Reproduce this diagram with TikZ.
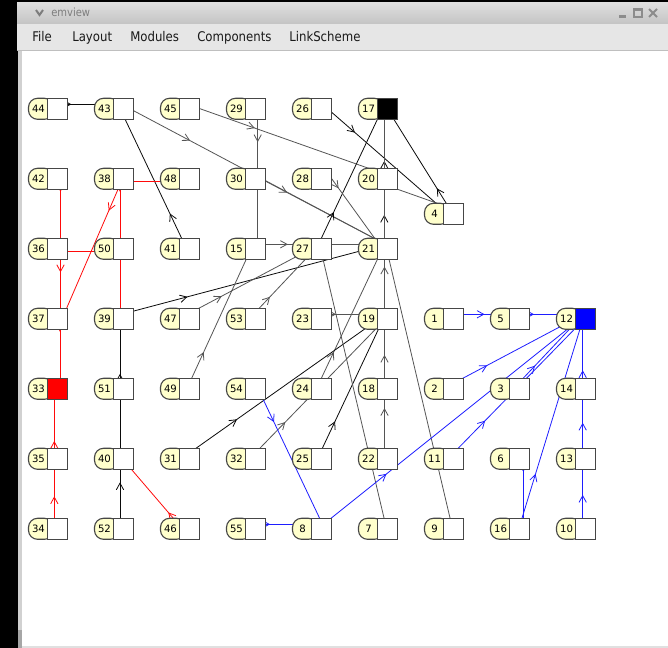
\documentclass[tikz,border=0pt]{standalone}
\usepackage{fontspec}
\setmainfont{DejaVu Sans}
\newfontfamily\menufont[FakeStretch=0.88]{DejaVu Sans}
\usetikzlibrary{arrows.meta,decorations.markings}
\pgfdeclarelayer{chrome}
\pgfdeclarelayer{edges}
\pgfsetlayers{chrome,edges,main}

\definecolor{labyel}{RGB}{255,255,204}
\definecolor{nborder}{RGB}{70,70,70}
\definecolor{egray}{RGB}{85,85,85}
\definecolor{eblack}{RGB}{10,10,10}
\definecolor{eblue}{RGB}{30,30,255}
\definecolor{ered}{RGB}{255,10,10}
\definecolor{menubg}{RGB}{230,230,230}
\definecolor{titletop}{RGB}{222,222,222}
\definecolor{titlebot}{RGB}{196,196,196}
\definecolor{titletext}{RGB}{125,125,125}

\tikzset{
  labshape/.style={draw=nborder, fill=labyel, line width=0.85pt, rounded corners=6.8pt,
    minimum width=18.75pt, minimum height=15.75pt, inner sep=0pt, outer sep=0pt, anchor=north west},
  boxshape/.style={draw=nborder, line width=0.85pt, minimum width=15pt, minimum height=15.75pt,
    inner sep=0pt, outer sep=0pt, anchor=north west},
  labtext/.style={inner sep=0pt, font=\fontsize{7.6pt}{8pt}\selectfont, text=black},
  menutext/.style={inner sep=0pt, anchor=base west, font=\menufont\fontsize{10pt}{11pt}\selectfont, text=black!90},
  link/.style={line width=0.6pt},
  blk/.style={link, draw=eblack},
  gry/.style={link, draw=egray},
  blu/.style={link, draw=eblue},
  rd/.style={link, draw=ered},
  ar/.style={postaction={decorate, decoration={markings,
      mark=at position #1 with {\arrow{Straight Barb[length=5pt,width=5.5pt]}}}}},
}

\newcommand\emnode[4]{%
  \node[labshape] (l#1) at (#2,#3) {};
  \node[boxshape, fill=#4] (b#1) at (#2+19,#3) {};
  \node[labtext] (t#1) at (#2+10,#3+10.5) {#1};
}
\newcommand\lnk[7][]{\draw[#1] ([shift={(#3,#4)}]l#2.north west) -- ([shift={(#6,#7)}]l#5.north west);}

\begin{document}
\begin{tikzpicture}[x=0.75pt,y=-0.75pt]
\useasboundingbox (0,0) rectangle (668,648);
\begin{pgfonlayer}{chrome}
  \fill[black] (0,0) rectangle (668,648);
  \fill[top color=titletop, bottom color=titlebot] (17,3) rectangle (668,24);
  \fill[menubg] (17,24) rectangle (668,50);
  \draw[black!25, line width=0.75pt] (17,50.5) -- (668,50.5);
  \fill[black!18] (18,51) rectangle (22,648);
  \fill[white] (22,51) rectangle (668,646);
  \fill[black!12] (22,646) rectangle (668,648);
  \fill[black!35] (18,630) rectangle (22,648);
  % title bar decorations
  \draw[titletext, line width=1.5pt] (36,10) -- (39.5,15) -- (43,10);
  \node[inner sep=0pt, anchor=base west, font=\menufont\fontsize{8.5pt}{9pt}\selectfont, text=titletext] (title) at (51,17) {emview};
  \draw[black!45, line width=1.6pt] (619,16.5) -- (626,16.5);
  \draw[black!45, line width=0.8pt] (634,9) rectangle (642,17);
  \draw[black!45, line width=1.6pt] (634,9.5) -- (642,9.5);
  \draw[black!45, line width=1.4pt] (649,9) -- (657,17) (657,9) -- (649,17);
\end{pgfonlayer}

% menu
\node[menutext] (mFile) at (32,42) {File};
\node[menutext] (mLayout) at (72,42) {Layout};
\node[menutext] (mModules) at (130,42) {Modules};
\node[menutext] (mComp) at (197,42) {Components};
\node[menutext] (mLink) at (289,42) {LinkScheme};

% nodes
\emnode{44}{28.5}{98.3}{white}
\emnode{43}{94.5}{98.3}{white}
\emnode{45}{160.5}{98.3}{white}
\emnode{29}{226.5}{98.3}{white}
\emnode{26}{292.5}{98.3}{white}
\emnode{17}{358.5}{98.3}{black}

\emnode{42}{28.5}{168.3}{white}
\emnode{38}{94.5}{168.3}{white}
\emnode{48}{160.5}{168.3}{white}
\emnode{30}{226.5}{168.3}{white}
\emnode{28}{292.5}{168.3}{white}
\emnode{20}{358.5}{168.3}{white}

\emnode{4}{424.5}{203.3}{white}

\emnode{36}{28.5}{238.3}{white}
\emnode{50}{94.5}{238.3}{white}
\emnode{41}{160.5}{238.3}{white}
\emnode{15}{226.5}{238.3}{white}
\emnode{27}{292.5}{238.3}{white}
\emnode{21}{358.5}{238.3}{white}

\emnode{37}{28.5}{308.3}{white}
\emnode{39}{94.5}{308.3}{white}
\emnode{47}{160.5}{308.3}{white}
\emnode{53}{226.5}{308.3}{white}
\emnode{23}{292.5}{308.3}{white}
\emnode{19}{358.5}{308.3}{white}
\emnode{1}{424.5}{308.3}{white}
\emnode{5}{490.5}{308.3}{white}
\emnode{12}{556.5}{308.3}{blue}

\emnode{33}{28.5}{378.3}{red}
\emnode{51}{94.5}{378.3}{white}
\emnode{49}{160.5}{378.3}{white}
\emnode{54}{226.5}{378.3}{white}
\emnode{24}{292.5}{378.3}{white}
\emnode{18}{358.5}{378.3}{white}
\emnode{2}{424.5}{378.3}{white}
\emnode{3}{490.5}{378.3}{white}
\emnode{14}{556.5}{378.3}{white}

\emnode{35}{28.5}{448.3}{white}
\emnode{40}{94.5}{448.3}{white}
\emnode{31}{160.5}{448.3}{white}
\emnode{32}{226.5}{448.3}{white}
\emnode{25}{292.5}{448.3}{white}
\emnode{22}{358.5}{448.3}{white}
\emnode{11}{424.5}{448.3}{white}
\emnode{6}{490.5}{448.3}{white}
\emnode{13}{556.5}{448.3}{white}

\emnode{34}{28.5}{518.3}{white}
\emnode{52}{94.5}{518.3}{white}
\emnode{46}{160.5}{518.3}{white}
\emnode{55}{226.5}{518.3}{white}
\emnode{8}{292.5}{518.3}{white}
\emnode{7}{358.5}{518.3}{white}
\emnode{9}{424.5}{518.3}{white}
\emnode{16}{490.5}{518.3}{white}
\emnode{10}{556.5}{518.3}{white}

\begin{pgfonlayer}{edges}
% black / gray links
\lnk[blk,ar=0.24]{44}{27}{6}{43}{27}{6}
\lnk[gry,ar=0.26]{43}{27}{6}{21}{27}{6}
\lnk[gry,ar=0.26]{30}{26}{6}{21}{27}{6}
\lnk[gry,ar=0.34]{45}{27}{6}{20}{27}{6}
\lnk[blk,ar=0.22]{41}{24}{6}{43}{23.5}{6}
\lnk[gry,ar=0.27]{29}{31.2}{6}{15}{31.2}{6}
\lnk[blk,ar=0.27]{26}{30}{6}{4}{18.5}{6}
\lnk[blk,ar=0.2]{4}{25.5}{6}{17}{26}{6}
\lnk[blk,ar=0.19]{20}{25.8}{6}{17}{25.8}{6}
\lnk[blk,ar=0.23]{27}{26}{6}{17}{26}{6}
\lnk[gry]{20}{31.5}{18.3}{4}{15.5}{1}
\lnk[blk,ar=0.21]{21}{25.8}{6}{17}{25.8}{6}
\lnk[gry,ar=0.2]{28}{36}{6}{21}{20.5}{6}
\lnk[gry,ar=0.26]{15}{27}{6}{21}{27}{6}
\lnk[blk,ar=0.25]{39}{27}{6}{21}{27}{6}
\lnk[gry,ar=0.26]{47}{27}{6}{27}{27}{6}
\lnk[gry,ar=0.25]{53}{27}{6}{27}{27}{6}
\lnk[gry,ar=0.23]{49}{28.4}{6}{15}{26.6}{6}
\lnk[gry,ar=0.23]{24}{26}{6}{21}{26}{6}
\lnk[gry,ar=0.23]{32}{27.5}{6}{19}{31.5}{6}
\lnk[blk,ar=0.25]{31}{27}{6}{19}{27}{6}
\lnk[blk,ar=0.235]{25}{27}{6}{19}{27}{6}
\lnk[gry,ar=0.25]{23}{27}{6}{19}{27}{6}
\lnk[gry]{7}{27}{6}{27}{27}{6}
\lnk[gry]{9}{27}{6}{21}{27}{6}
\lnk[gry,ar=0.22]{22}{26}{6}{21}{26}{6}
\lnk[gry,ar=0.21]{18}{26}{6}{21}{26}{6}
\lnk[gry,ar=0.227]{19}{26}{6}{17}{26}{6}
\lnk[blk,ar=0.2]{52}{25.5}{6}{39}{25.5}{6}
\lnk[blk,ar=0.15]{51}{25.5}{6}{39}{25.5}{6}
% red links
\lnk[rd,ar=0.25]{42}{32}{6}{36}{32}{6}
\lnk[rd,ar=0.2]{36}{32}{6}{33}{32}{6}
\lnk[rd,ar=0.25]{37}{31.5}{6}{33}{31.5}{6}
\lnk[rd,ar=0.26]{38}{30}{6}{37}{35.5}{6}
\lnk[rd]{38}{27}{12.7}{48}{27}{12.7}
\lnk[rd]{36}{27}{13.4}{50}{27}{13.4}
\lnk[rd,ar=0.25]{38}{25.5}{6}{50}{25.5}{6}
\lnk[rd]{50}{25.5}{6}{39}{25.5}{6}
\lnk[rd,ar=0.19]{35}{25.8}{6}{33}{25.8}{6}
\lnk[rd,ar=0.2]{34}{25.8}{6}{33}{25.8}{6}
\lnk[rd,ar=0.17]{46}{18}{6}{40}{24}{6}
% blue links
\lnk[blu,ar=0.27]{54}{29.5}{6}{8}{30}{6}
\lnk[blu,ar=0.25]{55}{27}{6}{8}{27}{6}
\lnk[blu,ar=0.24]{8}{31}{6}{12}{29.5}{6}
\lnk[blu,ar=0.24]{11}{27.8}{6}{12}{32.5}{6}
\lnk[blu,ar=0.265]{3}{27}{6}{12}{27}{6}
\lnk[blu,ar=0.27]{2}{27}{6}{12}{27}{6}
\lnk[blu,ar=0.25]{1}{27}{6}{12}{27}{6}
\lnk[blu,ar=0.25]{5}{27}{6}{12}{27}{6}
\lnk[blu,ar=0.24]{16}{29.6}{6}{12}{28}{6}
\lnk[blu,ar=0.25]{6}{32.8}{6}{16}{32.8}{6}
\lnk[blu,ar=0.21]{10}{26.2}{6}{14}{26.2}{6}
\lnk[blu,ar=0.225]{13}{26.2}{6}{12}{26.2}{6}
\lnk[blu,ar=0.2]{14}{26.2}{6}{12}{26.2}{6}
\end{pgfonlayer}
\end{tikzpicture}
\end{document}
